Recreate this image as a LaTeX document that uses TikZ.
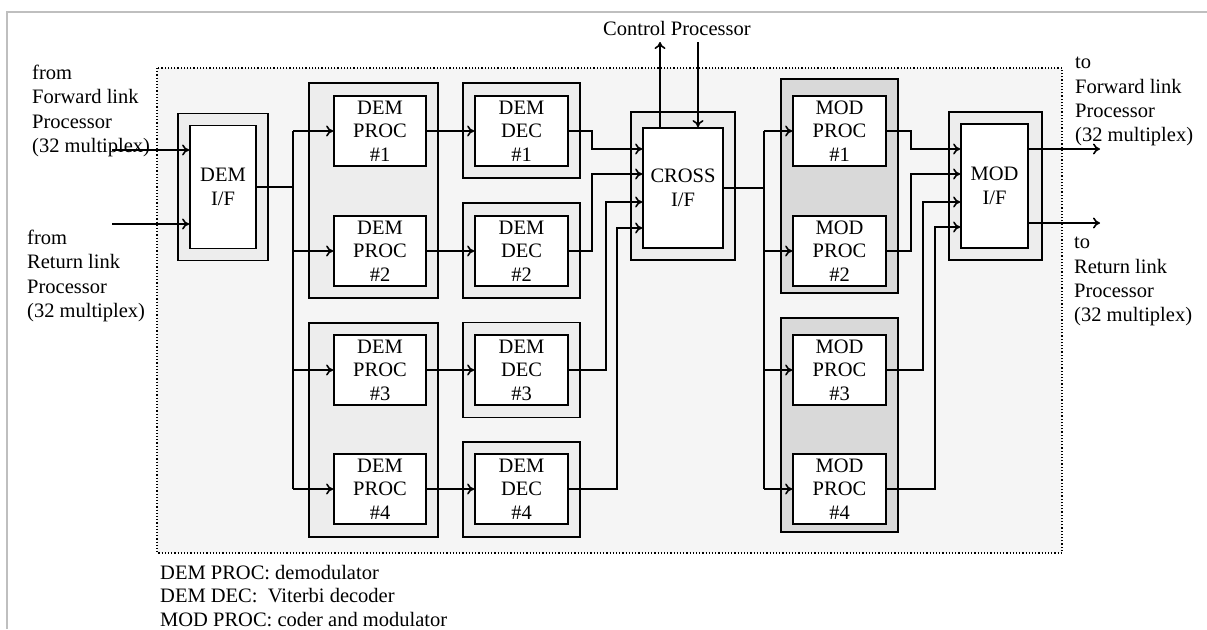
\documentclass[tikz,border=0pt]{standalone}
\usepackage{fontspec}
\setmainfont{Liberation Serif}
\usetikzlibrary{arrows.meta,calc}
\begin{document}
\begin{tikzpicture}[x=1pt,y=-1pt,
  every node/.style={font=\fontsize{20.5}{23.5}\selectfont},
  inbox/.style={draw, line width=1.8pt, fill=white, inner sep=0pt, align=center},
  outbox/.style={draw, line width=1.8pt, fill=black!7, inner sep=0pt},
  modout/.style={draw, line width=1.8pt, fill=black!15, inner sep=0pt},
  conn/.style={line width=1.6pt},
  arr/.style={line width=1.6pt, -{To[length=7pt,width=11pt]}},
  lbl/.style={inner sep=0pt, align=left, anchor=north west, font=\fontsize{20.5}{24.3}\selectfont}
]
\useasboundingbox (0,0) rectangle (1207,629);
\fill[white] (0,0) rectangle (1207,629);
% page frame
\draw[black!25, line width=2pt] (7,629) -- (7,12) -- (1207,12);
% dotted region
\draw[dotted, line width=1.2pt, fill=black!4] (157,68) rectangle (1062,553);

% DEM I/F
\node[outbox, minimum width=90, minimum height=147] (demifo) at (223,187) {};
\node[inbox, minimum width=66, minimum height=123] (demif) at (223,187) {DEM\\I/F};

% DEM PROC columns
\node[outbox, minimum width=129, minimum height=215] (dpA) at (373.5,190.5) {};
\node[outbox, minimum width=129, minimum height=214] (dpB) at (373.5,430) {};
\node[inbox, minimum width=92, minimum height=70] (dp1) at (380,131) {DEM\\PROC\\\#1};
\node[inbox, minimum width=92, minimum height=70] (dp2) at (380,251) {DEM\\PROC\\\#2};
\node[inbox, minimum width=92, minimum height=70] (dp3) at (380,370) {DEM\\PROC\\\#3};
\node[inbox, minimum width=92, minimum height=70] (dp4) at (380,489) {DEM\\PROC\\\#4};

% DEM DEC
\node[outbox, minimum width=117, minimum height=95] (dd1o) at (521.5,130.5) {};
\node[outbox, minimum width=117, minimum height=95] (dd2o) at (521.5,250.5) {};
\node[outbox, minimum width=117, minimum height=95] (dd3o) at (521.5,370) {};
\node[outbox, minimum width=117, minimum height=95] (dd4o) at (521.5,489.5) {};
\node[inbox, minimum width=93, minimum height=70] (dd1) at (521.5,131) {DEM\\DEC\\\#1};
\node[inbox, minimum width=93, minimum height=70] (dd2) at (521.5,251) {DEM\\DEC\\\#2};
\node[inbox, minimum width=93, minimum height=70] (dd3) at (521.5,370) {DEM\\DEC\\\#3};
\node[inbox, minimum width=93, minimum height=70] (dd4) at (521.5,489) {DEM\\DEC\\\#4};

% CROSS I/F
\node[outbox, minimum width=104, minimum height=148] (crosso) at (683,186) {};
\node[inbox, minimum width=80, minimum height=120] (cross) at (683,188) {CROSS\\I/F};

% MOD PROC columns
\node[modout, minimum width=117, minimum height=214] (mpA) at (839.5,186) {};
\node[modout, minimum width=117, minimum height=214] (mpB) at (839.5,425) {};
\node[inbox, minimum width=93, minimum height=70] (mp1) at (839.5,131) {MOD\\PROC\\\#1};
\node[inbox, minimum width=93, minimum height=70] (mp2) at (839.5,251) {MOD\\PROC\\\#2};
\node[inbox, minimum width=93, minimum height=70] (mp3) at (839.5,370) {MOD\\PROC\\\#3};
\node[inbox, minimum width=93, minimum height=70] (mp4) at (839.5,489) {MOD\\PROC\\\#4};

% MOD I/F
\node[outbox, minimum width=93, minimum height=148] (modifo) at (995.5,186) {};
\node[inbox, minimum width=67, minimum height=124] (modif) at (994.5,186) {MOD\\I/F};

% coordinates
\coordinate (in1) at (112,150);
\coordinate (in2) at (112,224);
\coordinate (bus1) at (293,0);
\coordinate (c1) at (592,149);
\coordinate (c2) at (592,174);
\coordinate (c3) at (606,202);
\coordinate (c4) at (617,228);
\coordinate (bus2) at (764,0);
\coordinate (m1) at (911,149);
\coordinate (m2) at (911,174);
\coordinate (m3) at (923,202);
\coordinate (m4) at (935,227);
\coordinate (out1) at (1100,149);
\coordinate (out2) at (1100,223);
\coordinate (cu) at (660,42);
\coordinate (cd) at (698,42);

% inputs
\draw[arr] (in1) -- (in1 -| demif.west);
\draw[arr] (in2) -- (in2 -| demif.west);
% DEM I/F to bus
\draw[conn] (demif.east) -- (demif.east -| bus1);
\draw[conn] (bus1 |- dp1) -- (bus1 |- dp4);
\foreach \n in {1,2,3,4} {
  \draw[arr] (bus1 |- dp\n) -- (dp\n.west);
  \draw[arr] (dp\n.east) -- (dd\n.west);
  \draw[arr] (dd\n.east) -| (c\n) -- (c\n -| cross.west);
}
% CROSS to MOD
\draw[conn] (cross.east) -- (cross.east -| bus2);
\draw[conn] (bus2 |- mp1) -- (bus2 |- mp4);
\foreach \n in {1,2,3,4} {
  \draw[arr] (bus2 |- mp\n) -- (mp\n.west);
  \draw[arr] (mp\n.east) -| (m\n) -- (m\n -| modif.west);
}
% outputs
\draw[arr] (out1 -| modif.east) -- (out1);
\draw[arr] (out2 -| modif.east) -- (out2);
% control processor
\node[inner sep=0pt, anchor=west] (ctrl) at (603,28) {Control Processor};
\draw[arr] (cu |- cross.north) -- (cu);
\draw[arr] (cd) -- (cd |- cross.north);

% labels
\node[lbl] (lfw) at (32,65) {from\\Forward link\\Processor\\(32 multiplex)};
\node[lbl] (lrt) at (27,230) {from\\Return link\\Processor\\(32 multiplex)};
\node[lbl] (rfw) at (1075,57) {to\\Forward link\\Processor\\(32 multiplex)};
\node[lbl] (rrt) at (1074,237) {to\\Return link\\Processor\\(32 multiplex)};
\node[lbl, font=\fontsize{20.5}{23.5}\selectfont] (legend) at (160,565) {DEM PROC: demodulator\\DEM DEC: \ Viterbi decoder\\MOD PROC: coder and modulator};
\end{tikzpicture}
\end{document}
